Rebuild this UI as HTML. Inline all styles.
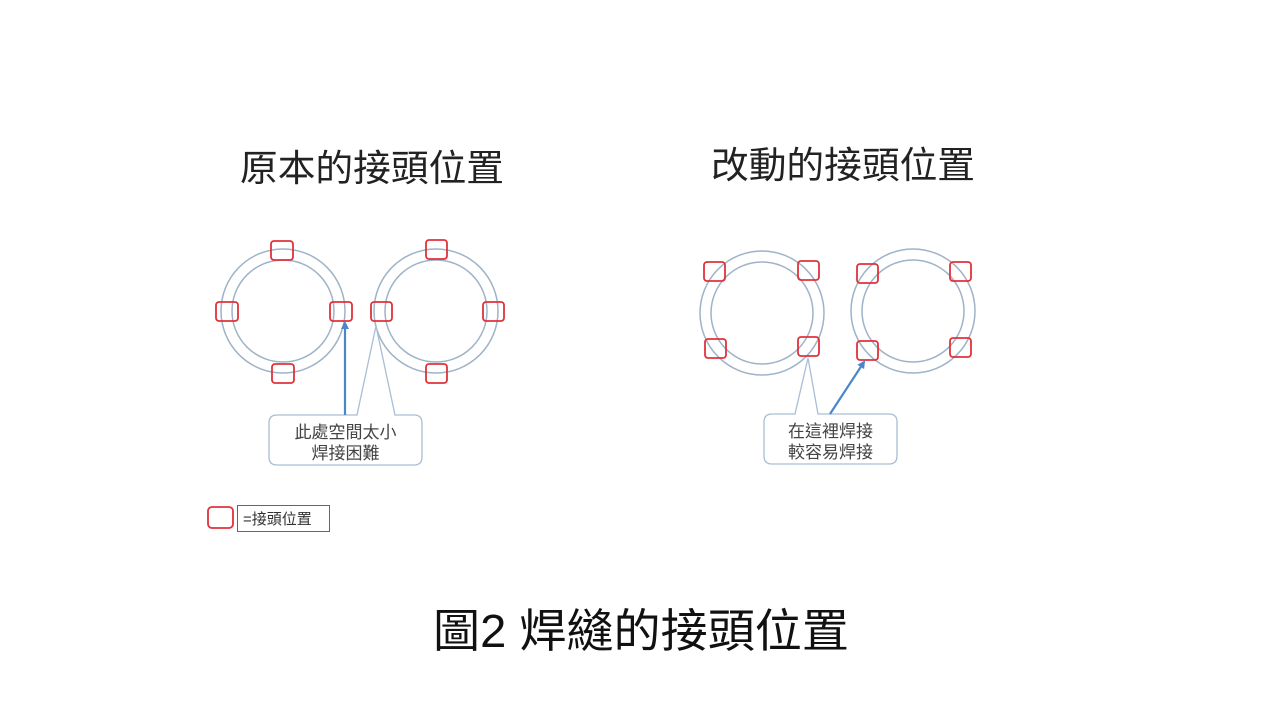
<!DOCTYPE html>
<html><head><meta charset="utf-8"><style>
html,body{margin:0;padding:0;background:#fff;}
svg{display:block}
text{font-family:"Liberation Sans","Noto Sans CJK TC","Noto Sans CJK SC",sans-serif;}
</style></head><body>
<svg width="1280" height="720" viewBox="0 0 1280 720" xmlns="http://www.w3.org/2000/svg">
<defs>
<marker id="ah" markerWidth="8" markerHeight="8" refX="6" refY="4" orient="auto" markerUnits="userSpaceOnUse">
<path d="M0,0 L8,4 L0,8 z" fill="#4a86c8"/></marker>
</defs>
<rect width="1280" height="720" fill="#fff"/>
<text x="240" y="181" font-size="37" fill="#222" textLength="264" lengthAdjust="spacingAndGlyphs">原本的接頭位置</text>
<text x="711" y="178" font-size="37" fill="#222" textLength="264" lengthAdjust="spacingAndGlyphs">改動的接頭位置</text>

<g fill="none" stroke="#9fb3c8" stroke-width="1.5">
<circle cx="283" cy="311" r="62"/><circle cx="283" cy="311" r="51"/>
<circle cx="436" cy="311" r="62"/><circle cx="436" cy="311" r="51"/>
<circle cx="762" cy="313" r="62"/><circle cx="762" cy="313" r="51"/>
<circle cx="913" cy="311" r="62"/><circle cx="913" cy="311" r="51"/>
</g>

<g fill="none" stroke="#e0323a" stroke-width="1.8">
<rect x="271" y="241" width="22" height="19" rx="3"/>
<rect x="216" y="302" width="22" height="19" rx="3"/>
<rect x="330" y="302" width="22" height="19" rx="3"/>
<rect x="272" y="364" width="22" height="19" rx="3"/>
<rect x="426" y="240" width="21" height="19" rx="3"/>
<rect x="371" y="302" width="21" height="19" rx="3"/>
<rect x="483" y="302" width="21" height="19" rx="3"/>
<rect x="426" y="364" width="21" height="19" rx="3"/>
<rect x="704" y="262" width="21" height="19" rx="3"/>
<rect x="798" y="261" width="21" height="19" rx="3"/>
<rect x="705" y="339" width="21" height="19" rx="3"/>
<rect x="798" y="337" width="21" height="19" rx="3"/>
<rect x="857" y="264" width="21" height="19" rx="3"/>
<rect x="950" y="262" width="21" height="19" rx="3"/>
<rect x="857" y="341" width="21" height="19" rx="3"/>
<rect x="950" y="338" width="21" height="19" rx="3"/>
<rect x="208" y="507" width="25" height="21" rx="4"/>
</g>

<!-- callout 1 -->
<path d="M277,415 L357,415 L376,326 L395,415 L414,415 Q422,415 422,423 L422,457 Q422,465 414,465 L277,465 Q269,465 269,457 L269,423 Q269,415 277,415 Z" fill="#fff" stroke="#a9bed3" stroke-width="1.3"/>
<text x="345.5" y="438" font-size="17" fill="#444" text-anchor="middle">此處空間太小</text>
<text x="345.5" y="459" font-size="17" fill="#444" text-anchor="middle">焊接困難</text>
<line x1="345" y1="415" x2="345" y2="323" stroke="#4a86c8" stroke-width="2.2" marker-end="url(#ah)"/>

<!-- callout 2 -->
<path d="M772,414 L795,414 L808,358 L818,414 L889,414 Q897,414 897,422 L897,456 Q897,464 889,464 L772,464 Q764,464 764,456 L764,422 Q764,414 772,414 Z" fill="#fff" stroke="#a9bed3" stroke-width="1.3"/>
<text x="830.5" y="437" font-size="17" fill="#444" text-anchor="middle">在這裡焊接</text>
<text x="830.5" y="458" font-size="17" fill="#444" text-anchor="middle">較容易焊接</text>
<line x1="830" y1="414" x2="864" y2="362" stroke="#4a86c8" stroke-width="2.2" marker-end="url(#ah)"/>

<!-- legend -->
<rect x="237.5" y="505.5" width="92" height="26" fill="#fff" stroke="#666" stroke-width="1"/>
<text x="243" y="524" font-size="15" fill="#333">=接頭位置</text>

<text x="433" y="647" font-size="46" fill="#111" textLength="416" lengthAdjust="spacingAndGlyphs">圖2 焊縫的接頭位置</text>
</svg>
</body></html>
